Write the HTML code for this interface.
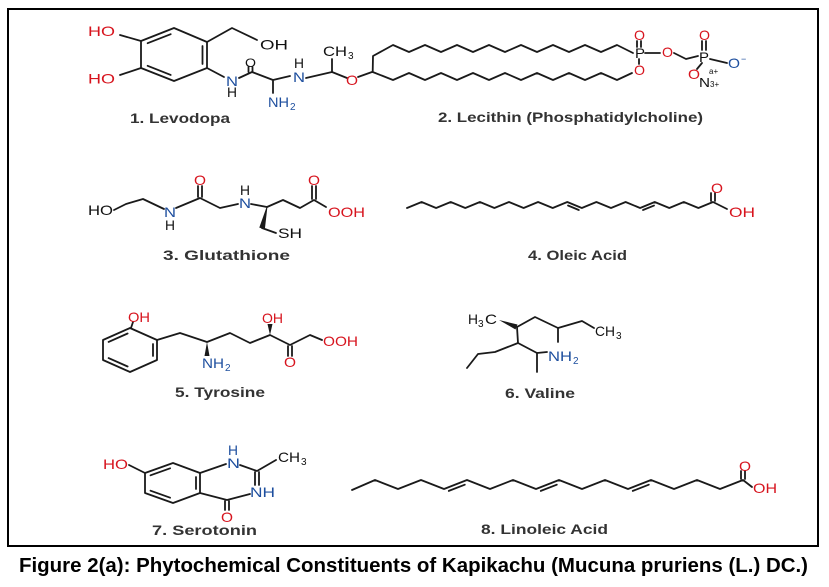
<!DOCTYPE html>
<html><head><meta charset="utf-8"><style>
html,body{margin:0;padding:0;background:#fff}
svg{display:block}
.b{stroke:#1a1a1a;stroke-width:1.8;fill:none;stroke-linejoin:round;stroke-linecap:round}
.a{font-family:"Liberation Sans",sans-serif;font-size:14px}
.s{font-family:"Liberation Sans",sans-serif;font-size:10px}
.r{fill:#d7141e}.u{fill:#1d4e9e}.k{fill:#111}
.l{font-family:"Liberation Sans",sans-serif;font-weight:bold;fill:#333;font-size:14px}
.c{font-family:"Liberation Sans",sans-serif;font-weight:bold;fill:#000;font-size:20px}
</style></head><body>
<svg width="829" height="587" viewBox="0 0 829 587" xmlns="http://www.w3.org/2000/svg">
<rect width="829" height="587" fill="#fff"/>
<rect x="8" y="9" width="810" height="537" fill="none" stroke="#000" stroke-width="2"/>

<!-- 1. Levodopa -->
<polygon class="b" points="174,28 207,42 207,68 174,81 141,68 141,41"/>
<line class="b" x1="147.6" y1="43.2" x2="170.7" y2="34.2"/>
<line class="b" x1="202.5" y1="46" x2="202.5" y2="64"/>
<line class="b" x1="147.6" y1="65.8" x2="170.7" y2="74.9"/>
<polyline class="b" points="120,35 141,41"/>
<polyline class="b" points="120,75 141,68"/>
<polyline class="b" points="207,42 232,28 257,40"/>
<polyline class="b" points="207,68 224,77"/>
<polyline class="b" points="239,78 252,72 273,80 290,76"/>
<line class="b" x1="248.5" y1="67" x2="248.5" y2="72"/>
<line class="b" x1="252.5" y1="67" x2="252.5" y2="72"/>
<line class="b" x1="273" y1="81" x2="273" y2="93"/>
<polyline class="b" points="306,78 332,72 347,78"/>
<line class="b" x1="332" y1="72" x2="332" y2="59"/>
<line class="b" x1="358" y1="77" x2="372" y2="72"/>
<text class="a r" x="88" y="36" textLength="27" lengthAdjust="spacingAndGlyphs">HO</text>
<text class="a r" x="88" y="83.5" textLength="27" lengthAdjust="spacingAndGlyphs">HO</text>
<text class="a k" x="260" y="49.5" textLength="28" lengthAdjust="spacingAndGlyphs">OH</text>
<text class="a u" x="226" y="86" textLength="12" lengthAdjust="spacingAndGlyphs">N</text>
<text class="a k" x="227" y="97" textLength="10" lengthAdjust="spacingAndGlyphs">H</text>
<text class="a k" x="245" y="67" textLength="11" lengthAdjust="spacingAndGlyphs" style="font-size:12px">O</text>
<text class="a u" x="268" y="107" textLength="21" lengthAdjust="spacingAndGlyphs">NH</text>
<text class="s u" x="290" y="110">2</text>
<text class="a u" x="293" y="82" textLength="12" lengthAdjust="spacingAndGlyphs">N</text>
<text class="a k" x="294" y="68" textLength="10" lengthAdjust="spacingAndGlyphs">H</text>
<text class="a k" x="323" y="56" textLength="24" lengthAdjust="spacingAndGlyphs">CH</text>
<text class="s k" x="348" y="59">3</text>
<text class="a r" x="346" y="85" textLength="12" lengthAdjust="spacingAndGlyphs">O</text>
<text class="l" x="130" y="123" textLength="100" lengthAdjust="spacingAndGlyphs">1. Levodopa</text>

<!-- 2. Lecithin -->
<polyline class="b" points="372.7,72 373,56 393,45 409,52 425,45 441,52 457,45 473,52 489,45 505,52 521,45 537,52 553,45 569,52 585,45 601,52 617,45 633,53"/>
<polyline class="b" points="372.7,72 393,80 409,73 425,80 441,73 457,80 473,73 489,80 505,73 521,80 537,73 553,80 569,73 585,80 601,73 617,80 632,73"/>
<line class="b" x1="637" y1="41" x2="637" y2="47"/>
<line class="b" x1="641" y1="41" x2="641" y2="47"/>
<line class="b" x1="639" y1="59" x2="639" y2="64"/>
<line class="b" x1="645" y1="53" x2="660" y2="53"/>
<polyline class="b" points="674,53 686,59 698,56"/>
<line class="b" x1="702" y1="41" x2="702" y2="50"/>
<line class="b" x1="706" y1="41" x2="706" y2="50"/>
<line class="b" x1="710" y1="59" x2="727" y2="63"/>
<line class="b" x1="702" y1="63" x2="697" y2="69"/>
<text class="a k" x="635" y="58" textLength="10" lengthAdjust="spacingAndGlyphs">P</text>
<text class="a r" x="634" y="40" textLength="11" lengthAdjust="spacingAndGlyphs">O</text>
<text class="a r" x="634" y="75" textLength="11" lengthAdjust="spacingAndGlyphs">O</text>
<text class="a r" x="662" y="57" textLength="11" lengthAdjust="spacingAndGlyphs">O</text>
<text class="a k" x="699" y="62" textLength="10" lengthAdjust="spacingAndGlyphs">P</text>
<text class="a r" x="699" y="40" textLength="11" lengthAdjust="spacingAndGlyphs">O</text>
<text class="a u" x="728" y="68" textLength="12" lengthAdjust="spacingAndGlyphs">O</text>
<text class="s u" x="741" y="62" style="font-size:9px">−</text>
<text class="a r" x="688" y="79" textLength="12" lengthAdjust="spacingAndGlyphs">O</text>
<text class="a k" x="699" y="87" textLength="11" lengthAdjust="spacingAndGlyphs" style="font-size:13px">N</text>
<text class="s k" x="709" y="74" style="font-size:8px">a+</text>
<text class="s k" x="710" y="87" style="font-size:8px">3+</text>
<text class="l" x="438" y="122" textLength="265" lengthAdjust="spacingAndGlyphs">2. Lecithin (Phosphatidylcholine)</text>

<!-- 3. Glutathione -->
<polyline class="b" points="114,210 126,204 143,199 164,209"/>
<polyline class="b" points="176,208 200,198 220,208 238,204"/>
<line class="b" x1="198" y1="186" x2="198" y2="197"/>
<line class="b" x1="202" y1="186" x2="202" y2="197"/>
<line class="b" x1="251" y1="204" x2="267" y2="207"/>
<polygon points="267,207 259.8,227.3 264.5,228.7" fill="#1a1a1a" stroke="#1a1a1a" stroke-width="0.8"/>
<line class="b" x1="262" y1="228" x2="276" y2="233"/>
<polyline class="b" points="267,207 283,200 300,208 314,200 326,207"/>
<line class="b" x1="312" y1="186" x2="312" y2="199"/>
<line class="b" x1="316" y1="186" x2="316" y2="199"/>
<text class="a k" x="88" y="215" textLength="25" lengthAdjust="spacingAndGlyphs">HO</text>
<text class="a u" x="164" y="217" textLength="12" lengthAdjust="spacingAndGlyphs">N</text>
<text class="a k" x="165" y="230" textLength="10" lengthAdjust="spacingAndGlyphs">H</text>
<text class="a r" x="194" y="185" textLength="12" lengthAdjust="spacingAndGlyphs">O</text>
<text class="a u" x="239" y="208" textLength="12" lengthAdjust="spacingAndGlyphs">N</text>
<text class="a k" x="240" y="195" textLength="10" lengthAdjust="spacingAndGlyphs">H</text>
<text class="a k" x="278" y="238" textLength="24" lengthAdjust="spacingAndGlyphs">SH</text>
<text class="a r" x="308" y="185" textLength="12" lengthAdjust="spacingAndGlyphs">O</text>
<text class="a r" x="328" y="217" textLength="37" lengthAdjust="spacingAndGlyphs">OOH</text>
<text class="l" x="163" y="260" textLength="127" lengthAdjust="spacingAndGlyphs">3. Glutathione</text>

<!-- 4. Oleic Acid -->
<polyline class="b" points="407,208 421.6,202 436.1,208 450.7,202 465.3,208 479.9,202 494.4,208 509,202 523.6,208 538.1,202 552.7,208 567.3,202 581.8,208 596.4,202 611,208 625.6,202 640.1,208 654.7,202 669.3,208 683.8,202 698.4,208 713,202 727,209"/>
<line class="b" x1="568" y1="205.5" x2="578.8" y2="210"/>
<line class="b" x1="643" y1="210" x2="654" y2="205.6"/>
<line class="b" x1="711" y1="193" x2="711" y2="201"/>
<line class="b" x1="715" y1="193" x2="715" y2="201"/>
<text class="a r" x="711" y="193" textLength="12" lengthAdjust="spacingAndGlyphs">O</text>
<text class="a r" x="729" y="217" textLength="26" lengthAdjust="spacingAndGlyphs">OH</text>
<text class="l" x="528" y="260" textLength="99" lengthAdjust="spacingAndGlyphs">4. Oleic Acid</text>

<!-- 5. Tyrosine -->
<polygon class="b" points="130,328 157,340 157,360 130,372 103,360 103,340"/>
<line class="b" x1="108.6" y1="341.9" x2="127.6" y2="333.5"/>
<line class="b" x1="153" y1="344" x2="153" y2="356"/>
<line class="b" x1="108.6" y1="358.1" x2="127.6" y2="366.5"/>
<line class="b" x1="131" y1="328" x2="133" y2="322"/>
<polyline class="b" points="157,340 180,333 207,342 230,333 250,343 270,335 290,345 310,335 322,340"/>
<polygon points="207,342 204.5,356 209.5,356" fill="#1a1a1a"/>
<polygon points="270,335 267.5,324 272.5,324" fill="#1a1a1a"/>
<line class="b" x1="288" y1="346" x2="288" y2="356"/>
<line class="b" x1="292" y1="346" x2="292" y2="356"/>
<text class="a r" x="128" y="322" textLength="22" lengthAdjust="spacingAndGlyphs">OH</text>
<text class="a u" x="202" y="368" textLength="22" lengthAdjust="spacingAndGlyphs">NH</text>
<text class="s u" x="225" y="371">2</text>
<text class="a r" x="262" y="323" textLength="21" lengthAdjust="spacingAndGlyphs">OH</text>
<text class="a r" x="284" y="367" textLength="12" lengthAdjust="spacingAndGlyphs">O</text>
<text class="a r" x="323" y="346" textLength="35" lengthAdjust="spacingAndGlyphs">OOH</text>
<text class="l" x="175" y="397" textLength="90" lengthAdjust="spacingAndGlyphs">5. Tyrosine</text>

<!-- 6. Valine -->
<polygon points="499,320 517.5,324.5 515.5,329.5" fill="#1a1a1a"/>
<polyline class="b" points="517,327 535,317 558,328 582,321 594,328"/>
<line class="b" x1="558" y1="328" x2="558" y2="342"/>
<polyline class="b" points="517,327 518,343 537,353 547,352"/>
<line class="b" x1="537" y1="353" x2="537" y2="372"/>
<polyline class="b" points="518,343 495,352 478,354 467,368"/>
<text class="a k" x="468" y="324" textLength="10" lengthAdjust="spacingAndGlyphs">H</text>
<text class="s k" x="478" y="327">3</text>
<text class="a k" x="485" y="324" textLength="12" lengthAdjust="spacingAndGlyphs">C</text>
<text class="a u" x="548" y="361" textLength="24" lengthAdjust="spacingAndGlyphs">NH</text>
<text class="s u" x="573" y="364">2</text>
<text class="a k" x="595" y="336" textLength="20" lengthAdjust="spacingAndGlyphs">CH</text>
<text class="s k" x="616" y="339">3</text>
<text class="l" x="505" y="398" textLength="70" lengthAdjust="spacingAndGlyphs">6. Valine</text>

<!-- 7. Serotonin -->
<polygon class="b" points="173,463 200,473 200,493 173,503 145,493 145,473"/>
<line class="b" x1="150.5" y1="475.3" x2="170.1" y2="468.3"/>
<line class="b" x1="196" y1="477" x2="196" y2="489"/>
<line class="b" x1="150.5" y1="490.7" x2="170.1" y2="497.7"/>
<line class="b" x1="129" y1="465" x2="145" y2="473"/>
<line class="b" x1="200" y1="473" x2="226" y2="464"/>
<polyline class="b" points="240,465 257,471 276,460"/>
<line class="b" x1="255" y1="472" x2="255" y2="485"/>
<line class="b" x1="259" y1="472" x2="259" y2="485"/>
<polyline class="b" points="250,494 227,500 200,493"/>
<line class="b" x1="225" y1="501" x2="225" y2="510"/>
<line class="b" x1="229" y1="501" x2="229" y2="510"/>
<text class="a r" x="103" y="469" textLength="25" lengthAdjust="spacingAndGlyphs">HO</text>
<text class="a u" x="227" y="468" textLength="13" lengthAdjust="spacingAndGlyphs">N</text>
<text class="a u" x="228" y="455" textLength="10" lengthAdjust="spacingAndGlyphs">H</text>
<text class="a k" x="278" y="462" textLength="22" lengthAdjust="spacingAndGlyphs">CH</text>
<text class="s k" x="301" y="465">3</text>
<text class="a u" x="250" y="497" textLength="25" lengthAdjust="spacingAndGlyphs">NH</text>
<text class="a r" x="221" y="522" textLength="12" lengthAdjust="spacingAndGlyphs">O</text>
<text class="l" x="152" y="535" textLength="105" lengthAdjust="spacingAndGlyphs">7. Serotonin</text>

<!-- 8. Linoleic Acid -->
<polyline class="b" points="352,490 375,480 398,489 421,480 444,489 467,480 490,489 513,480 536,489 559,480 582,489 605,480 628,489 651,480 674,489 697,480 720,489 743,480 752,487"/>
<line class="b" x1="448.8" y1="490.9" x2="464.8" y2="484.7"/>
<line class="b" x1="540.8" y1="490.9" x2="556.8" y2="484.7"/>
<line class="b" x1="632.8" y1="490.9" x2="648.8" y2="484.7"/>
<line class="b" x1="741" y1="471" x2="741" y2="479"/>
<line class="b" x1="745" y1="471" x2="745" y2="479"/>
<text class="a r" x="739" y="471" textLength="12" lengthAdjust="spacingAndGlyphs">O</text>
<text class="a r" x="753" y="493" textLength="24" lengthAdjust="spacingAndGlyphs">OH</text>
<text class="l" x="481" y="534" textLength="127" lengthAdjust="spacingAndGlyphs">8. Linoleic Acid</text>

<!-- Caption -->
<text class="c" x="19" y="572" textLength="789" lengthAdjust="spacingAndGlyphs">Figure 2(a): Phytochemical Constituents of Kapikachu (Mucuna pruriens (L.) DC.)</text>
</svg>
</body></html>
